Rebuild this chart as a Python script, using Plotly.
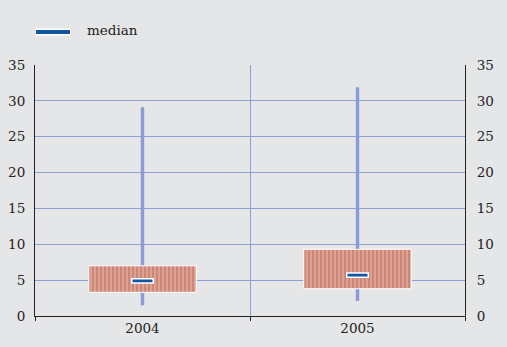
import plotly.graph_objects as go

years = ["2004", "2005"]
whisker_min = [1.5, 2.1]
whisker_max = [29.1, 31.9]
box_low = [3.3, 3.8]
box_high = [7.0, 9.3]
median = [4.9, 5.7]
y_ticks = [0, 5, 10, 15, 20, 25, 30, 35]
legend_label = "median"

BG = "#e5e6e8"
GRID = "#8d9fd8"
WHISK = "#8a9bd5"
MED = "#0d57a5"
FAM = "DejaVu Serif"
FONT = dict(family=FAM, size=13.5, color="#222222")

fig = go.Figure()

# whiskers (min to max)
fig.add_trace(go.Bar(
    x=years, base=whisker_min, y=[h - l for h, l in zip(whisker_max, whisker_min)],
    width=0.016, marker=dict(color=WHISK, line=dict(width=0)), showlegend=False,
    hoverinfo="skip"))

# boxes
fig.add_trace(go.Bar(
    x=years, base=box_low, y=[h - l for h, l in zip(box_high, box_low)],
    width=0.5,
    marker=dict(color="#dca395",
                line=dict(color="white", width=1),
                pattern=dict(shape="|", size=4, solidity=0.5, fgcolor="#c06a5d",
                             bgcolor="#dca395", fillmode="overlay")),
    showlegend=False, hoverinfo="skip"))

# medians
fig.add_trace(go.Bar(
    x=years, base=[m - 0.3 for m in median], y=[0.6, 0.6],
    width=0.1, marker=dict(color=MED, line=dict(color="white", width=1.5)),
    showlegend=False, hoverinfo="skip"))

# dummy trace so the right-hand axis is drawn
fig.add_trace(go.Scatter(x=[None], y=[None], yaxis="y2", showlegend=False, hoverinfo="skip"))

# legend (manual)
fig.add_shape(type="line", xref="paper", yref="paper",
              x0=0.0, x1=36 / 430, y0=1 + 33 / 251, y1=1 + 33 / 251,
              line=dict(color="white", width=7))
fig.add_shape(type="line", xref="paper", yref="paper",
              x0=1 / 430, x1=35 / 430, y0=1 + 33 / 251, y1=1 + 33 / 251,
              line=dict(color=MED, width=4))
fig.add_annotation(text=legend_label, xref="paper", yref="paper",
                   x=50 / 430, y=1 + 35 / 251, xanchor="left", yanchor="middle",
                   showarrow=False, font=FONT)

fig.update_layout(
    width=507, height=347,
    margin=dict(l=35, r=42, t=65, b=31, autoexpand=False),
    paper_bgcolor=BG, plot_bgcolor=BG,
    barmode="overlay",
    font=FONT,
    showlegend=False,
    xaxis=dict(
        type="category", range=[-0.5, 1.5],
        tickson="boundaries", ticks="outside", ticklen=4, tickcolor="#222222",
        showgrid=True, gridcolor=GRID, gridwidth=1,
        showline=True, linecolor="#222222", linewidth=1,
        tickfont=FONT),
    yaxis=dict(
        range=[0, 35], tickvals=y_ticks, ticktext=[str(v) for v in y_ticks],
        showgrid=True, gridcolor=GRID, gridwidth=1,
        zeroline=False,
        showline=True, linecolor="#222222", linewidth=1,
        ticks="", ticklabelstandoff=6, tickfont=FONT),
    yaxis2=dict(
        range=[0, 35], tickvals=y_ticks, ticktext=[str(v) for v in y_ticks],
        overlaying="y", side="right", showgrid=False, zeroline=False,
        showline=True, linecolor="#222222", linewidth=1,
        ticks="", ticklabelstandoff=8, tickfont=FONT, anchor="x"),
)

fig.write_html("out.html", config={"displayModeBar": False},
               post_script="document.body.style.margin='0';")
